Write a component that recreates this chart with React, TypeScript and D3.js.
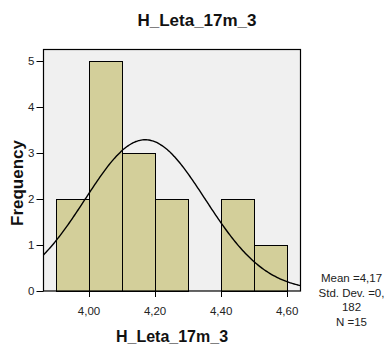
import React from "react";
import * as d3 from "d3";

const binStarts = [3.9, 4.0, 4.1, 4.2, 4.3, 4.4, 4.5];
const counts = [2, 5, 3, 2, 0, 2, 1];
const binWidth = 0.1;
const yTicks = [0, 1, 2, 3, 4, 5];
const xTicks = [4.0, 4.2, 4.4, 4.6];
const xTickLabels = ["4,00", "4,20", "4,40", "4,60"];
const statLines = ["Mean =4,17", "Std. Dev. =0,", "182", "N =15"];
const mean = 4.17;
const sd = 0.182;
const n = 15;
const title = "H_Leta_17m_3";
const yLabel = "Frequency";

const W = 384;
const H = 344;
const L = 43.5, R = 300.5, T = 49.5, B = 291;
const font = "'Liberation Sans', Arial, sans-serif";

export default function App() {
  const x = d3.scaleLinear().domain([3.862, 4.6405]).range([L, R]);
  const y = d3.scaleLinear().domain([0, 5.25]).range([B, T]);
  const peak = (n * binWidth) / (sd * Math.sqrt(2 * Math.PI));
  const pts = d3.range(0, 201).map((i) => {
    const v = 3.862 + (i / 200) * (4.6405 - 3.862);
    const z = (v - mean) / sd;
    return [v, peak * Math.exp(-0.5 * z * z)] as [number, number];
  });
  const line = d3
    .line<[number, number]>()
    .x((d) => x(d[0]))
    .y((d) => y(d[1]))
    .curve(d3.curveBasis);

  return (
    <svg
      width={W}
      height={H}
      style={{ position: "fixed", left: 0, top: 0, background: "#fff" }}
      fontFamily={font}
    >
      <defs>
        <clipPath id="plotclip">
          <rect x={L} y={T} width={R - L} height={B - T} />
        </clipPath>
      </defs>
      <text x={197} y={25.5} textAnchor="middle" fontSize={17} fontWeight="bold" fill="#111">
        {title}
      </text>
      <rect x={L} y={T} width={R - L} height={B - T} fill="#f0f0f0" stroke="none" />
      {binStarts.map((b, i) =>
        counts[i] > 0 ? (
          <rect
            key={i}
            x={Math.round(x(b)) + 0.5}
            y={Math.round(y(counts[i])) + 0.5}
            width={Math.round(x(b + binWidth)) - Math.round(x(b))}
            height={Math.round(y(0)) - Math.round(y(counts[i]))}
            fill="#d3cf9a"
            stroke="#000"
            strokeWidth={1}
          />
        ) : null
      )}
      <path d={line(pts) || ""} fill="none" stroke="#000" strokeWidth={1.4} clipPath="url(#plotclip)" />
      <rect x={L} y={T} width={R - L} height={B - T} fill="none" stroke="#000" strokeWidth={1.2} />
      {yTicks.map((t) => (
        <g key={t}>
          <line x1={L - 7} x2={L} y1={Math.round(y(t)) + 0.5} y2={Math.round(y(t)) + 0.5} stroke="#000" strokeWidth={1} />
          <text x={L - 9} y={y(t) + 4} textAnchor="end" fontSize={11.5} fill="#222">
            {t}
          </text>
        </g>
      ))}
      {xTicks.map((t, i) => (
        <g key={t}>
          <line x1={Math.round(x(t)) + 0.5} x2={Math.round(x(t)) + 0.5} y1={B} y2={B + 6} stroke="#000" strokeWidth={1} />
          <text x={x(t)} y={315} textAnchor="middle" fontSize={11.5} fill="#222">
            {xTickLabels[i]}
          </text>
        </g>
      ))}
      <text x={(L + R) / 2} y={341.5} textAnchor="middle" fontSize={16} fontWeight="bold" fill="#111">
        {title}
      </text>
      <text
        transform={`translate(22.5,183) rotate(-90)`}
        textAnchor="middle"
        fontSize={17}
        fontWeight="bold"
        fill="#111"
      >
        {yLabel}
      </text>
      {statLines.map((s, i) => (
        <text key={i} x={351.5} y={281.7 + i * 14.8} textAnchor="middle" fontSize={11.5} fill="#222">
          {s}
        </text>
      ))}
    </svg>
  );
}
